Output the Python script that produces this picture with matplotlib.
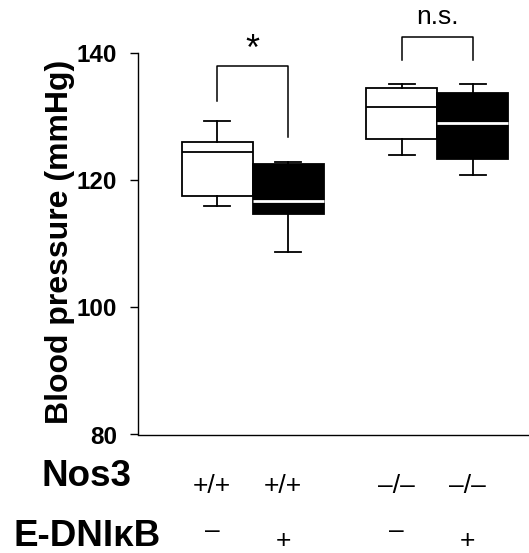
import matplotlib
matplotlib.use("Agg")
import matplotlib.pyplot as plt
import matplotlib.transforms as mtransforms

plt.rcParams['font.family'] = ['Liberation Sans', 'DejaVu Sans']

# box plot summary per group (mmHg)
groups = ["Nos3 +/+ ctrl", "Nos3 +/+ E-DNIkB", "Nos3 -/- ctrl", "Nos3 -/- E-DNIkB"]
whis_lo = [115.9, 108.6, 123.9, 120.8]
q1 = [117.5, 114.6, 126.4, 123.3]
medians = [124.3, 116.7, 131.5, 129.0]
q3 = [126.0, 122.5, 134.5, 133.6]
whis_hi = [129.2, 122.8, 135.1, 135.1]
positions = [1, 2, 3.6, 4.6]
fills = ['white', 'black', 'white', 'black']

nos3_labels = ['+/+', '+/+', '\u2013/\u2013', '\u2013/\u2013']
dni_labels = ['\u2013', '+', '\u2013', '+']

# significance brackets: (left box, right box, left leg end, right leg end, top, text)
brackets = [
    (0, 1, 132.4, 126.8, 137.9, '*'),
    (2, 3, 138.9, 138.9, 142.5, 'n.s.'),
]

fig = plt.figure(figsize=(5.29, 5.53), dpi=100)
ax = fig.add_axes([138 / 529, 118.5 / 553, 1 - 138 / 529, 382 / 553])

stats = []
for i in range(len(groups)):
    stats.append({'label': groups[i], 'whislo': whis_lo[i], 'q1': q1[i], 'med': medians[i],
                  'q3': q3[i], 'whishi': whis_hi[i], 'fliers': []})

bp = ax.bxp(stats, positions=positions, widths=1.0, patch_artist=True, showfliers=False,
            capwidths=0.37,
            boxprops=dict(edgecolor='black', linewidth=1.3),
            whiskerprops=dict(color='black', linewidth=1.3),
            capprops=dict(color='black', linewidth=1.3),
            medianprops=dict(color='black', linewidth=1.3))
for i, box in enumerate(bp['boxes']):
    box.set_facecolor(fills[i])
    if fills[i] == 'black':
        bp['medians'][i].set_color('white')
        bp['medians'][i].set_linewidth(2)

ax.set_xlim(-0.113, 5.39)
ax.set_ylim(80, 140)
ax.set_yticks([80, 100, 120, 140])
ax.set_yticklabels(['80', '100', '120', '140'], fontsize=17.5, fontweight='bold')
ax.tick_params(axis='y', direction='out', length=6, width=1, pad=9)
ax.set_xticks([])
for s in ['top', 'right']:
    ax.spines[s].set_visible(False)
ax.spines['left'].set_linewidth(1)
ax.spines['bottom'].set_linewidth(1)

fig.text(60 / 529, 1 - 241.5 / 553, 'Blood pressure (mmHg)', rotation=90, ha='center', va='center',
         fontsize=23, fontweight='bold')

# significance brackets
for a, b, ya, yb, top, txt in brackets:
    xa, xb = positions[a], positions[b]
    ax.plot([xa, xa, xb, xb], [ya, top, top, yb], color='black', lw=1.1, clip_on=False)
    if txt == '*':
        ax.text((xa + xb) / 2, top + 1.0, txt, ha='center', va='baseline', fontsize=26, clip_on=False)
    else:
        ax.text((xa + xb) / 2, top + 1.9, txt, ha='center', va='baseline', fontsize=19, clip_on=False)

# group labels under the axis
trans = mtransforms.blended_transform_factory(ax.transData, fig.transFigure)
fig.text(42 / 529, 1 - 486 / 553, 'Nos3', fontsize=26.5, fontweight='bold', ha='left', va='baseline')
fig.text(13 / 529, 1 - 546 / 553, 'E-DNI\u03baB', fontsize=26.5, fontweight='bold', ha='left', va='baseline')
for i, x in enumerate(positions):
    ax.text(x - 0.07, 1 - 493 / 553, nos3_labels[i], transform=trans, ha='center', va='baseline', fontsize=19)
    y = 538 if dni_labels[i] == '\u2013' else 548
    ax.text(x - 0.07, 1 - y / 553, dni_labels[i], transform=trans, ha='center', va='baseline', fontsize=19)

fig.savefig('out.png', dpi=100)
